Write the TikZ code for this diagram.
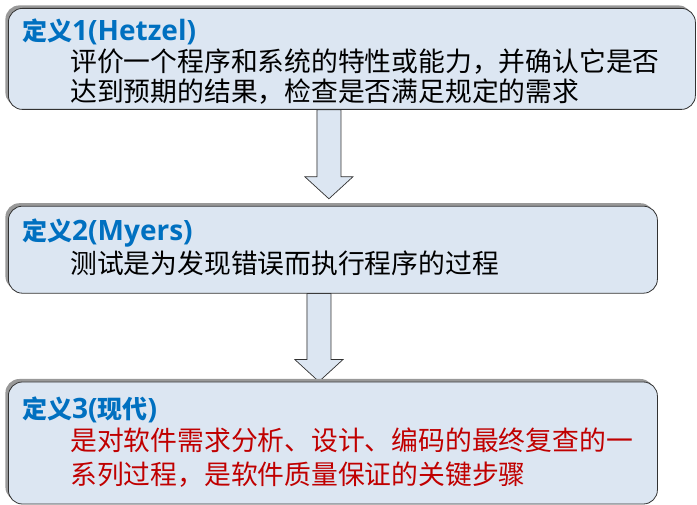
\documentclass[tikz,border=0pt]{standalone}
\usepackage{fontspec}
\newfontfamily\cjkfont{Noto Sans CJK SC}
\newfontfamily\latfont{Open Sans}
\usetikzlibrary{positioning,calc,shadows,backgrounds}

\definecolor{boxfill}{RGB}{220,230,242}
\definecolor{ttlblue}{RGB}{0,112,192}
\definecolor{txtred}{RGB}{192,0,0}
\definecolor{edgegray}{RGB}{50,50,50}

\newcommand{\lat}[1]{{\latfont\fontsize{28}{30}\selectfont #1}}
% block arrow from top point #1 down to tip #2
\newcommand{\blkarrow}[2]{%
  \fill[arrshadow] let \p1=(#1), \p2=(#2) in
    (\x1-12pt,\y1) -- (\x1-12pt,\y2+22pt) -- (\x1-24pt,\y2+22pt) -- (\x1,\y2)
    -- (\x1+24pt,\y2+22pt) -- (\x1+12pt,\y2+22pt) -- (\x1+12pt,\y1) -- cycle;
  \draw[arrbody] let \p1=(#1), \p2=(#2) in
    (\x1-12pt,\y1) -- (\x1-12pt,\y2+22pt) -- (\x1-24pt,\y2+22pt) -- (\x1,\y2)
    -- (\x1+24pt,\y2+22pt) -- (\x1+12pt,\y2+22pt) -- (\x1+12pt,\y1) -- cycle;
}

\begin{document}
\begin{tikzpicture}[
  x=1pt, y=1pt,
  defbox/.style={draw=edgegray, line width=0.8pt, fill=boxfill, rounded corners=14pt,
    drop shadow={shadow xshift=-3pt, shadow yshift=3pt, fill=black!40, opacity=1}},
  ttl/.style={anchor=west, inner sep=0pt, text=ttlblue,
    font=\cjkfont\bfseries\fontsize{25}{27}\selectfont},
  body/.style={anchor=west, inner sep=0pt, align=left,
    font=\cjkfont\fontsize{26.8}{30}\selectfont},
  arrshadow/.style={fill=black!35, xshift=-4pt, yshift=3pt},
  arrbody/.style={draw=edgegray, line width=0.7pt, fill=boxfill}
]
\useasboundingbox (0,0) rectangle (697,504);

% Definitions
\node[defbox, minimum width=687pt, minimum height=101pt, anchor=north west] (def1) at (8,496) {};
\node[defbox, minimum width=649pt, minimum height=87pt, below=96pt of def1.south west, anchor=north west] (def2) {};
\node[defbox, minimum width=649pt, minimum height=122pt, below=88pt of def2.south west, anchor=north west] (def3) {};

% Texts
\node[ttl] (ttl1) at ([shift={(14,-24)}]def1.north west) {定义\lat{1(Hetzel)}};
\node[body] (txt1) at ([shift={(62,-69)}]def1.north west) {评价一个程序和系统的特性或能力，并确认它是否\\达到预期的结果，检查是否满足规定的需求};

\node[ttl] (ttl2) at ([shift={(14,-27)}]def2.north west) {定义\lat{2(Myers)}};
\node[body] (txt2) at ([shift={(62,-57)}]def2.north west) {测试是为发现错误而执行程序的过程};

\node[ttl] (ttl3) at ([shift={(14,-28)}]def3.north west) {定义\lat{3(}现代\lat{)}};
\node[body, text=txtred, font=\cjkfont\fontsize{26.8}{34}\selectfont] (txt3) at ([shift={(62,-76)}]def3.north west) {是对软件需求分析、设计、编码的最终复查的一\\系列过程，是软件质量保证的关键步骤};

% Arrows
\coordinate (a1top) at ([xshift=-23pt]def1.south);
\coordinate (a1tip) at ($(a1top |- def2.north)+(0,7)$);
\coordinate (a2top) at ([xshift=-14pt]def2.south);
\coordinate (a2tip) at (a2top |- def3.north);
\begin{pgfonlayer}{background}
\blkarrow{a1top}{a1tip}
\blkarrow{a2top}{a2tip}
\end{pgfonlayer}

\end{tikzpicture}
\end{document}
